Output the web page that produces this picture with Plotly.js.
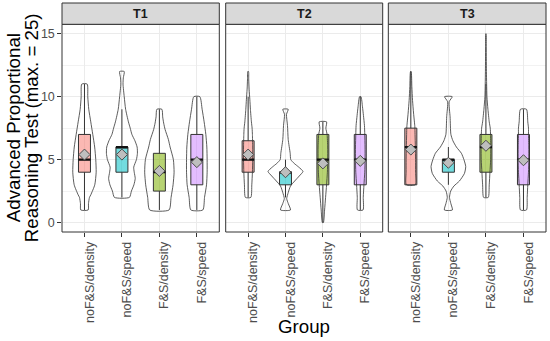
<!DOCTYPE html>
<html>
<head>
<meta charset="utf-8">
<script src="https://cdn.plot.ly/plotly-3.0.1.min.js"></script>
<style>html,body{margin:0;padding:0;background:#fff;}#chart{width:550px;height:341px;}</style>
</head>
<body>
<div id="chart"></div>
<script>
// ---------- data ----------
const groups = ['noF&S/density', 'noF&S/speed', 'F&S/density', 'F&S/speed'];
const panels = ['T1', 'T2', 'T3'];

// box statistics per panel (order follows groups)
const q1_T1 = [4, 4, 2.5, 3];
const med_T1 = [5, 6, 4, 5];
const q3_T1 = [7, 6, 5.5, 7];
const lo_T1 = [1, 2, 1, 1];
const hi_T1 = [11, 9, 9, 10];
const mean_T1 = [5.4, 5.4, 4.1, 4.8];

const q1_T2 = [4, 3, 3, 3];
const med_T2 = [5, 4, 5, 5];
const q3_T2 = [6.5, 4, 7, 7];
const lo_T2 = [2, 2, 0, 1];
const hi_T2 = [10, 5, 8, 10];
const mean_T2 = [5.4, 4.0, 4.7, 4.9];

const q1_T3 = [3, 4, 4, 3];
const med_T3 = [6, 5, 6, 5];
const q3_T3 = [7.5, 5, 7, 7];
const lo_T3 = [3, 3, 2, 1];
const hi_T3 = [12, 6, 11, 9];
const mean_T3 = [5.8, 4.75, 6.1, 4.95];

// violin density profiles (score levels and relative density)
const vy_T1 = [
  [1, 1.5, 2, 2.2, 3, 4, 5, 6, 7, 8, 9, 10, 11],
  [2, 2.5, 3, 3.5, 4, 4.4, 5, 5.5, 6, 6.5, 7, 7.5, 8, 9, 10, 11, 11.5, 12],
  [1, 2, 3, 4, 5, 6, 6.6, 7.4, 7.9, 8.4, 9],
  [1, 2, 3, 4, 5, 6, 7, 8, 9, 10]
];
const vd_T1 = [
  [3.7, 4, 5, 6.3, 10.3, 11.7, 11.3, 10.2, 8.3, 6.3, 4.3, 3.3, 2.7],
  [7.5, 9.5, 12, 13.3, 12.3, 11.8, 14.5, 15.5, 15.2, 13, 10, 8.3, 6.5, 3.7, 2.3, 1.1, 1.4, 2.3],
  [9.7, 11.7, 13.7, 14.7, 14, 10.7, 9, 5.7, 4.3, 3.3, 2.5],
  [6, 7.7, 9.7, 10.3, 10.3, 10, 9, 7.3, 5.3, 3]
];
const vy_T2 = [
  [2, 3, 4, 5, 6, 7, 7.5, 8, 9, 9.8, 10.6, 11.4, 12],
  [1, 1.5, 1.9, 2.4, 2.9, 3.3, 3.7, 4.06, 4.4, 4.7, 5, 5.5, 6.6, 7.7, 8.6, 9],
  [0, 1, 2, 3, 4, 5, 6, 7, 7.5, 8],
  [1, 2, 3, 4, 5, 6, 7, 7.7, 8.5, 9.2, 10]
];
const vd_T2 = [
  [2.7, 3.7, 4.3, 4.6, 4.6, 4.3, 4, 3.3, 2.3, 1.7, 1, 0.6, 0.4],
  [5, 2.8, 1.2, 2.8, 5, 9.2, 13.8, 17.5, 13.3, 8.7, 5.3, 4.7, 2.7, 2, 1, 2.7],
  [0.5, 1.7, 2.7, 3.7, 4.5, 4.8, 4.8, 4.2, 3, 3.7],
  [2.8, 3, 3.7, 4.5, 4.8, 4.8, 4.5, 4.2, 3.2, 2.2, 0.7]
];
const vy_T3 = [
  [3, 4, 5, 6, 7, 7.6, 8.7, 9.7, 10.8, 12],
  [1, 1.5, 2, 2.5, 2.9, 3.3, 3.9, 4.45, 5, 5.5, 6, 6.5, 7, 8.4, 9.6, 10],
  [2, 3, 4, 5, 6, 7, 7.5, 8, 9, 10, 11, 12, 13, 14, 15],
  [1, 2, 3, 4, 5, 6, 7, 7.5, 8, 9]
];
const vd_T3 = [
  [4.5, 4.7, 4.7, 4.5, 4.2, 4, 2.7, 1.7, 1, 0.3],
  [4, 2.5, 1.1, 2.3, 5.5, 11, 16, 17.3, 15.5, 13, 8, 4.5, 2.5, 1.7, 0.8, 3.8],
  [2.3, 3.3, 4, 4.7, 4.8, 4.6, 4.3, 3.3, 2, 1, 0.7, 0.5, 0.4, 0.3, 0.2],
  [3, 3.7, 4.3, 5, 5.3, 5.3, 5, 5, 4.3, 3]
];

// ---------- style ----------
const FONT = 'Liberation Sans, Arial, Helvetica, sans-serif';
const boxFill = ['rgba(248,118,109,0.52)', 'rgba(0,191,196,0.55)', 'rgba(124,174,0,0.55)', 'rgba(199,124,255,0.5)'];
const dark = '#333333';
const densToWidth = 1 / 37.45;
const boxWidth = 0.32;

const panelData = [
  {q1: q1_T1, med: med_T1, q3: q3_T1, lo: lo_T1, hi: hi_T1, mean: mean_T1, vy: vy_T1, vd: vd_T1},
  {q1: q1_T2, med: med_T2, q3: q3_T2, lo: lo_T2, hi: hi_T2, mean: mean_T2, vy: vy_T2, vd: vd_T2},
  {q1: q1_T3, med: med_T3, q3: q3_T3, lo: lo_T3, hi: hi_T3, mean: mean_T3, vy: vy_T3, vd: vd_T3}
];

const traces = [];
panelData.forEach((p, k) => {
  const xa = k === 0 ? 'x' : 'x' + (k + 1);
  groups.forEach((g, i) => {
    const pos = i + 1;
    const ys = p.vy[i], ds = p.vd[i];
    const xs = [], yy = [];
    for (let j = 0; j < ys.length; j++) { xs.push(pos + ds[j] * densToWidth); yy.push(ys[j]); }
    for (let j = ys.length - 1; j >= 0; j--) { xs.push(pos - ds[j] * densToWidth); yy.push(ys[j]); }
    xs.push(xs[0]); yy.push(yy[0]);
    traces.push({type: 'scatter', mode: 'lines', x: xs, y: yy, xaxis: xa, yaxis: 'y',
      fill: 'toself', fillcolor: 'rgba(255,255,255,0)',
      line: {color: dark, width: 0.8, shape: 'spline', smoothing: 0.6},
      hoverinfo: 'skip', showlegend: false});
  });
  groups.forEach((g, i) => {
    const pos = i + 1;
    traces.push({type: 'box', x: [pos], q1: [p.q1[i]], median: [p.med[i]], q3: [p.q3[i]],
      lowerfence: [p.lo[i]], upperfence: [p.hi[i]], width: boxWidth, whiskerwidth: 0,
      boxpoints: false, fillcolor: boxFill[i], line: {color: dark, width: 1},
      xaxis: xa, yaxis: 'y', showlegend: false, hoverinfo: 'skip'});
    traces.push({type: 'scatter', mode: 'lines', x: [pos - boxWidth / 2, pos + boxWidth / 2],
      y: [p.med[i], p.med[i]], xaxis: xa, yaxis: 'y',
      line: {color: '#111', width: 2.2}, showlegend: false, hoverinfo: 'skip'});
    traces.push({type: 'scatter', mode: 'markers', x: [pos], y: [p.mean[i]], xaxis: xa, yaxis: 'y',
      marker: {symbol: 'diamond', size: 8.5, color: '#BEBEBE', line: {color: '#4D4D4D', width: 1}},
      showlegend: false, hoverinfo: 'skip'});
  });
});

const yTop = 0.907;
const xDomains = [[0, 0.325], [0.3382, 0.6626], [0.6742, 1]];

function xAxis(k) {
  return {domain: xDomains[k], range: [0.4, 4.6], anchor: 'y',
    tickmode: 'array', tickvals: [1, 2, 3, 4], ticktext: groups, tickangle: -90,
    ticks: 'outside', ticklen: 3.7, tickcolor: dark, tickwidth: 1,
    ticklabelshift: 5,
    tickfont: {family: FONT, size: 12.5, color: '#4D4D4D'},
    showgrid: true, gridcolor: '#EBEBEB', gridwidth: 1, zeroline: false, showline: false, fixedrange: true};
}

const shapes = [];
const annotations = [];
panels.forEach((t, k) => {
  const xr = (k === 0 ? 'x' : 'x' + (k + 1)) + ' domain';
  shapes.push({type: 'rect', xref: xr, yref: 'y domain', x0: 0, x1: 1, y0: 0, y1: 1,
    line: {color: dark, width: 1}, fillcolor: 'rgba(0,0,0,0)', layer: 'above'});
  shapes.push({type: 'rect', xref: xr, yref: 'paper', x0: 0, x1: 1, y0: yTop, y1: 1,
    line: {color: dark, width: 1}, fillcolor: '#D9D9D9', layer: 'above'});
  annotations.push({xref: xr, yref: 'paper', x: 0.5, y: (yTop + 1) / 2, text: '<b>' + t + '</b>',
    showarrow: false, xanchor: 'center', yanchor: 'middle',
    font: {family: FONT, size: 12.5, color: '#1A1A1A'}});
});
annotations.push({xref: 'paper', yref: 'paper', x: 0, y: yTop / 2, xshift: -49, text: 'Advanced Proportional',
  textangle: -90, showarrow: false, xanchor: 'center', yanchor: 'middle',
  font: {family: FONT, size: 18.7, color: '#000'}});
annotations.push({xref: 'paper', yref: 'paper', x: 0, y: yTop / 2, xshift: -31, text: 'Reasoning Test (max. = 25)',
  textangle: -90, showarrow: false, xanchor: 'center', yanchor: 'middle',
  font: {family: FONT, size: 18.7, color: '#000'}});
annotations.push({xref: 'paper', yref: 'paper', x: 0.5, y: 0, yshift: -94, text: 'Group',
  showarrow: false, xanchor: 'center', yanchor: 'middle',
  font: {family: FONT, size: 18.7, color: '#000'}});

const layout = {
  width: 550, height: 341,
  margin: {l: 62, r: 4, t: 3, b: 109, pad: 0},
  paper_bgcolor: '#fff', plot_bgcolor: '#fff',
  showlegend: false,
  boxmode: 'overlay',
  xaxis: xAxis(0), xaxis2: xAxis(1), xaxis3: xAxis(2),
  yaxis: {domain: [0, yTop], range: [-0.75, 15.75], anchor: 'x',
    tickmode: 'array', tickvals: [0, 5, 10, 15],
    ticks: 'outside', ticklen: 3.7, tickcolor: dark, tickwidth: 1,
    tickfont: {family: FONT, size: 12.5, color: '#4D4D4D'},
    showgrid: true, gridcolor: '#EBEBEB', gridwidth: 1, zeroline: false, showline: false,
    minor: {tickmode: 'array', tickvals: [2.5, 7.5, 12.5], showgrid: true, gridcolor: '#EDEDED', gridwidth: 0.7, ticks: ''},
    fixedrange: true},
  shapes: shapes,
  annotations: annotations,
  font: {family: FONT}
};

Plotly.newPlot('chart', traces, layout, {staticPlot: true, displayModeBar: false});
</script>
</body>
</html>
